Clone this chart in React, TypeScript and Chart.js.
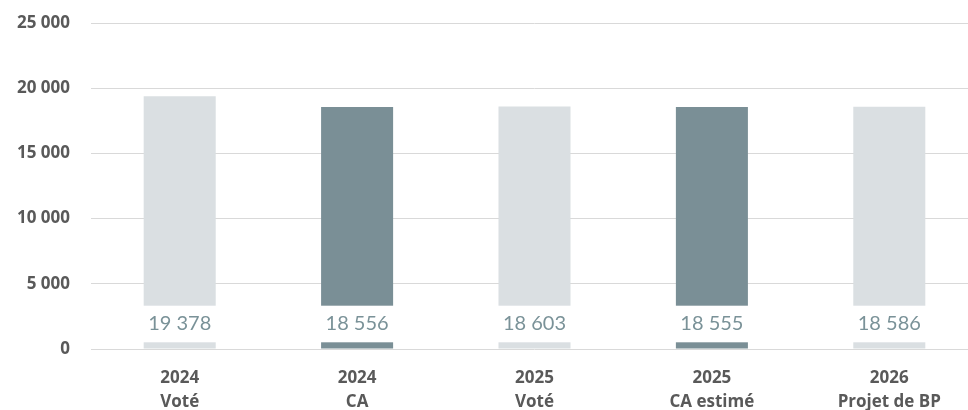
import React, { useEffect, useRef } from "react";
import { Chart, registerables } from "chart.js";

Chart.register(...registerables);

// Budget lines: year on the first row, stage on the second
const categories: string[][] = [
  ["2024", "Voté"],
  ["2024", "CA"],
  ["2025", "Voté"],
  ["2025", "CA estimé"],
  ["2026", "Projet de BP"],
];
const values: number[] = [19378, 18556, 18603, 18555, 18586];
const barColors: string[] = ["#dadfe2", "#7a8f96", "#dadfe2", "#7a8f96", "#dadfe2"];
const yTicks: number[] = [0, 5000, 10000, 15000, 20000, 25000];

const fmt = (v: number) =>
  Math.round(v)
    .toString()
    .replace(/\B(?=(\d{3})+(?!\d))/g, " ");

// Value label printed inside each bar near its base, on a white band
const valueBand = {
  id: "valueBand",
  afterDatasetsDraw(chart: any) {
    const ctx = chart.ctx;
    const meta = chart.getDatasetMeta(0);
    const ds = chart.data.datasets[0];
    const base = chart.scales.y.getPixelForValue(0);
    ctx.save();
    meta.data.forEach((bar: any, i: number) => {
      const w = bar.width;
      ctx.fillStyle = "#ffffff";
      ctx.fillRect(bar.x - w / 2 - 1, base - 43.3, w + 2, 36.6);
      ctx.fillStyle = "#7a9298";
      ctx.font = "20px Lato";
      ctx.textAlign = "center";
      ctx.textBaseline = "middle";
      ctx.fillText(fmt(ds.data[i]), bar.x, base - 25);
    });
    ctx.restore();
  },
};

export default function App() {
  const ref = useRef<HTMLCanvasElement | null>(null);

  useEffect(() => {
    if (!ref.current) return;
    const chart = new Chart(ref.current, {
      type: "bar",
      data: {
        labels: categories,
        datasets: [
          {
            data: values,
            backgroundColor: barColors,
            borderWidth: 0,
            barPercentage: 0.406,
            categoryPercentage: 1,
          },
        ],
      },
      options: {
        responsive: false,
        animation: false,
        layout: { padding: { top: 23, right: 2, bottom: 0, left: 0 } },
        plugins: {
          legend: { display: false },
          tooltip: { enabled: false },
        },
        scales: {
          x: {
            grid: { display: false },
            border: { display: false },
            ticks: {
              color: "#595959",
              font: { family: "Open Sans", size: 17, weight: "bold", lineHeight: "24px" },
              padding: 9,
              maxRotation: 0,
              autoSkip: false,
            },
            afterFit(scale: any) {
              scale.height = 61;
            },
          },
          y: {
            min: 0,
            max: 25000,
            afterBuildTicks(scale: any) {
              scale.ticks = yTicks.map((v) => ({ value: v }));
            },
            grid: { color: "#d9d9d9", lineWidth: 1, drawTicks: false },
            border: { display: false },
            ticks: {
              color: "#595959",
              font: { family: "Open Sans", size: 17, weight: "bold" },
              padding: 21,
              callback: (v: any) => fmt(Number(v)),
            },
            afterFit(scale: any) {
              scale.width = 91;
              scale.paddingTop = 0;
              scale.paddingBottom = 0;
            },
          },
        },
      },
      plugins: [valueBand],
    });
    return () => chart.destroy();
  }, []);

  return (
    <div style={{ position: "absolute", left: 0, top: 0, width: 980, height: 410 }}>
      <canvas ref={ref} width={980} height={410} style={{ width: 980, height: 410 }} />
    </div>
  );
}
